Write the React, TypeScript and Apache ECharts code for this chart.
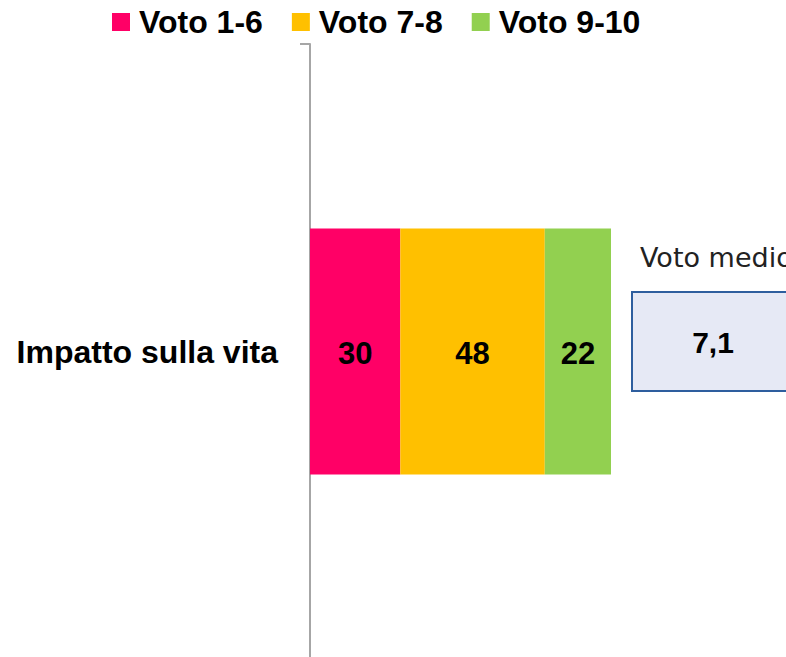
import React, { useEffect, useRef } from "react";
import * as echarts from "echarts";

const categories = ["Impatto sulla vita"];
const seriesNames = ["Voto 1-6", "Voto 7-8", "Voto 9-10"];
const seriesValues = [[30], [48], [22]];
const seriesColors = ["#FF0066", "#FFC000", "#92D050"];
const averageLabel = "Voto medio";
const averageValue = "7,1";

const FONT = "'Liberation Sans', Arial, sans-serif";
const FONT_REG = "'DejaVu Sans', sans-serif";

export default function App() {
  const ref = useRef<HTMLDivElement>(null);
  useEffect(() => {
    if (!ref.current) return;
    const chart = echarts.init(ref.current, undefined, { renderer: "svg" });
    chart.setOption({
      animation: false,
      backgroundColor: "#ffffff",
      legend: {
        data: seriesNames,
        left: 112,
        top: 6,
        padding: 0,
        itemWidth: 18,
        itemHeight: 18,
        itemGap: 29,
        icon: "rect",
        textStyle: {
          fontFamily: FONT,
          fontWeight: "bold",
          fontSize: 32,
          lineHeight: 32,
          color: "#000",
          padding: [0, 0, 0, 4],
        },
      },
      grid: { left: 310, top: 44, width: 301, height: 615, containLabel: false },
      xAxis: { type: "value", min: 0, max: 100, show: false },
      yAxis: {
        type: "category",
        data: categories,
        inverse: true,
        axisLine: { show: true, lineStyle: { color: "#A6A6A6", width: 2 } },
        axisTick: { show: true, length: 10, lineStyle: { color: "#A6A6A6", width: 2 } },
        axisLabel: {
          margin: 32,
          fontFamily: FONT,
          fontWeight: "bold",
          fontSize: 32,
          color: "#000",
        },
      },
      series: seriesNames.map((name, i) => ({
        name,
        type: "bar",
        stack: "total",
        barWidth: "40%",
        data: seriesValues[i],
        itemStyle: { color: seriesColors[i] },
        label: {
          show: true,
          position: "inside",
          fontFamily: FONT,
          fontWeight: "bold",
          fontSize: 31,
          color: "#000",
          offset: [0, 2],
        },
      })),
      graphic: [
        {
          type: "text",
          x: 640,
          y: 257,
          style: {
            text: averageLabel,
            fontFamily: FONT_REG,
            fontSize: 27,
            fill: "#222",
            verticalAlign: "middle",
          },
        },
        {
          type: "rect",
          shape: { x: 632, y: 292, width: 170, height: 99 },
          style: { fill: "#E6E9F5", stroke: "#2E5E9E", lineWidth: 2 },
        },
        {
          type: "text",
          x: 713,
          y: 342,
          style: {
            text: averageValue,
            fontFamily: FONT,
            fontWeight: "bold",
            fontSize: 30,
            fill: "#000",
            align: "center",
            verticalAlign: "middle",
          },
        },
      ],
    });
    return () => chart.dispose();
  }, []);
  return (
    <div
      ref={ref}
      style={{ position: "fixed", left: 0, top: 0, width: 786, height: 700 }}
    />
  );
}
